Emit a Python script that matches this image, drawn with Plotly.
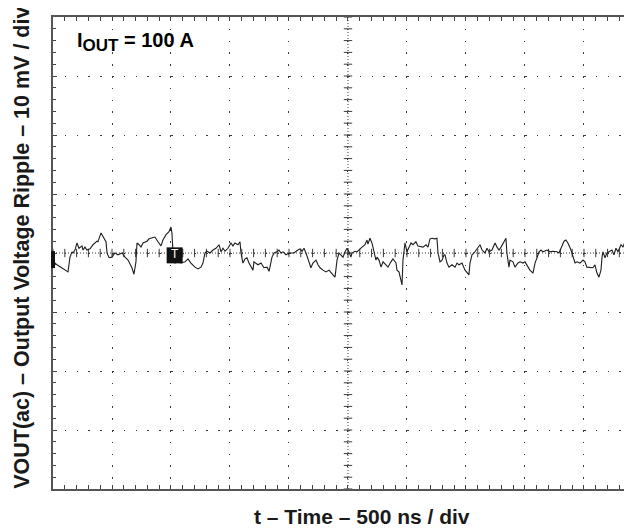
import plotly.graph_objects as go

# ---- data ----
t_ns = [0, 17, 34, 76, 119, 127, 144, 161, 169, 186, 203, 220, 246, 254, 271, 288, 314, 339, 373, 381,
        407, 424, 432, 449, 458, 475, 500, 525, 551, 585, 610, 636, 669, 686, 703, 712, 729, 746, 763, 797,
        814, 831, 864, 890, 915, 932, 958, 983, 1000, 1008, 1017, 1034, 1059, 1085, 1119, 1144, 1169, 1203,
        1229, 1254, 1271, 1288, 1305, 1331, 1356, 1381, 1407, 1424, 1441, 1458, 1483, 1508, 1525, 1542, 1568,
        1585, 1593, 1610, 1627, 1644, 1661, 1695, 1703, 1737, 1763, 1788, 1814, 1831, 1839, 1856, 1873, 1898,
        1915, 1932, 1949, 1975, 2000, 2017, 2042, 2076, 2093, 2110, 2127, 2144, 2169, 2186, 2203, 2229, 2246,
        2263, 2288, 2314, 2339, 2356, 2373, 2390, 2407, 2424, 2441, 2458, 2475, 2492, 2508, 2525, 2534, 2559,
        2576, 2602, 2619, 2644, 2661, 2669, 2686, 2703, 2720, 2737, 2746, 2763, 2780, 2797, 2822, 2839, 2864,
        2881, 2907, 2915, 2932, 2949, 2958, 2966, 2983, 3000, 3017, 3034, 3051, 3076, 3093, 3119, 3136, 3161,
        3178, 3195, 3212, 3237, 3254, 3263, 3280, 3297, 3314, 3322, 3339, 3356, 3381, 3407, 3424, 3441, 3466,
        3492, 3508, 3525, 3534, 3551, 3568, 3576, 3602, 3619, 3636, 3661, 3678, 3695, 3720, 3746, 3763, 3780,
        3797, 3822, 3839, 3847, 3864, 3873, 3898, 3915, 3941, 3958, 3983, 4000, 4025, 4042, 4068, 4085, 4102,
        4119, 4136, 4153, 4186, 4212, 4237, 4271, 4288, 4314, 4331, 4347, 4364, 4390, 4407, 4424, 4441, 4466,
        4492, 4508, 4525, 4551, 4576, 4593, 4610, 4627, 4644, 4653, 4661, 4678, 4695, 4712, 4737, 4754, 4771,
        4788, 4814, 4831, 4847, 4864, 4890, 4907]
v_mv = [-1.7, -1.7, -2.0, -2.5, -3.1, -3.2, -0.7, 0.2, 0.0, 0.5, 1.7, 0.8, 1.2, 0.5, 1.0, 0.5, 0.7, 1.4, 2.0, 1.9,
        3.4, 2.7, 2.5, 1.9, 0.0, -0.8, -0.7, 0.0, -0.3, 0.0, -0.7, -1.2, -2.5, -3.6, -1.5, 1.7, 1.4, 1.0, 1.7, 2.0,
        2.4, 2.5, 2.7, 1.9, 1.2, 2.2, 3.1, 3.6, 4.4, 3.4, 0.2, -1.7, -1.5, -1.7, -1.5, -1.0, -1.7, -2.4,
        -2.7, -2.4, -1.7, 0.0, 0.3, 0.0, 0.5, 0.8, 1.4, 0.2, 0.8, 0.3, 0.8, 1.7, 1.2, 1.7, 1.4,
        1.9, 0.0, -1.7, -1.0, -0.8, -1.7, -2.9, -1.5, -2.0, -1.7, -2.5, -2.4, -3.1, -2.4, -0.7, 0.0, 0.2,
        0.5, 0.0, 0.2, -0.3, 0.0, 0.0, 0.0, 0.5, 0.7, 0.3, 0.8, 0.0, -1.5, -2.5, -1.7, -1.2, -2.0,
        -2.5, -2.9, -3.2, -2.9, -3.4, -3.7, -4.1, -1.2, 0.0, -0.3, -0.7, 0.2, 0.8, 0.2, -0.7, 0.0, 0.3,
        0.2, 0.8, 1.0, 1.4, 2.2, 1.5, 2.5, 1.7, 0.0, -1.2, -0.7, -1.2, -2.4, -1.5, -2.0, -2.4, -1.5,
        -1.0, -1.7, -2.9, -3.2, -4.6, -5.4, -1.2, 1.7, 0.2, 1.0, 1.7, 1.4, 1.9, 1.2, 1.0, 1.0, 1.4,
        1.0, 2.4, 2.5, 2.4, 2.5, 0.0, -1.5, -1.2, -0.3, -0.3, -1.7, -2.4, -2.0, -2.4, -1.7, -2.0, -1.7,
        -2.9, -3.4, -3.7, -1.7, -0.3, 0.0, 0.2, 0.8, 1.4, 0.5, 0.0, 0.8, 0.2, 0.5, 1.7, 1.0, 0.5,
        1.0, 1.9, 2.5, 0.0, -2.4, -1.2, -1.5, -2.4, -1.7, -1.5, -1.7, -1.5, -2.4, -2.9, -3.4, -1.7, -0.8,
        0.2, 0.5, 0.2, 0.5, 0.2, 0.3, 0.2, 0.0, 1.4, 2.0, 2.2, 1.7, 0.5, -0.7, -1.7, -1.5, -1.7,
        -1.2, -1.5, -2.4, -2.4, -2.5, -2.0, -3.4, -4.1, -2.9, -0.7, 0.2, -0.8, 0.0, 0.2, 0.5, -0.3, 0.8,
        0.2, 1.4, 1.0, 1.9, 1.7, 2.2, 2.5]

t_range = [0, 4907]          # visible part of the 10-division screen (500 ns/div)
v_range = [-40, 40]          # 8 divisions, 10 mV/div
t_div = 500
v_div = 10
t_center = 2500
v_center = 0
trigger_t = 1031
trigger_v = -0.4

annotation_text = "I<sub><span style='font-size:17px'>OUT</span></sub> = 100 A"
x_title = "t – Time – 500 ns / div"
y_title = "VOUT(ac) – Output Voltage Ripple – 10 mV / div"

FONT = "Liberation Sans, Arial, sans-serif"
GRID = "#3a3a3a"

fig = go.Figure()

# crosshair tick marks (graticule centre lines)
minor_t = [k * t_div / 5 for k in range(0, int(t_range[1] // (t_div / 5)) + 1)]
minor_v = [v_range[0] + k * v_div / 5 for k in range(0, int((v_range[1] - v_range[0]) // (v_div / 5)) + 1)]
fig.add_trace(go.Scatter(x=minor_t, y=[v_center] * len(minor_t), mode="markers",
                         marker=dict(symbol="line-ns", size=6, line=dict(width=1, color=GRID)),
                         hoverinfo="skip", showlegend=False))
fig.add_trace(go.Scatter(x=[t_center] * len(minor_v), y=minor_v, mode="markers",
                         marker=dict(symbol="line-ew", size=6, line=dict(width=1, color=GRID)),
                         hoverinfo="skip", showlegend=False))

# waveform
fig.add_trace(go.Scatter(x=t_ns, y=v_mv, mode="lines",
                         line=dict(color="#1e1e1e", width=1.1),
                         hoverinfo="skip", showlegend=False))

# trigger marker
fig.add_trace(go.Scatter(x=[trigger_t], y=[trigger_v], mode="markers+text",
                         marker=dict(symbol="square", size=16, color="#111111"),
                         text=["T"], textposition="middle center",
                         textfont=dict(family=FONT, size=12, color="white"),
                         hoverinfo="skip", showlegend=False))

shapes = [
    dict(type="line", xref="x", yref="y", x0=t_center, x1=t_center, y0=v_range[0], y1=v_range[1],
         line=dict(color=GRID, width=1, dash="1px,2px"), layer="below"),
    dict(type="line", xref="x", yref="y", x0=t_range[0], x1=t_range[1], y0=v_center, y1=v_center,
         line=dict(color=GRID, width=1, dash="1px,2px"), layer="below"),
    # channel ground marker at the left edge
    dict(type="rect", xref="paper", yref="paper", x0=-0.0035, x1=0.0035, y0=0.468, y1=0.504,
         fillcolor="#111111", line=dict(width=0)),
]

axis_common = dict(showgrid=True, gridcolor=GRID, gridwidth=1, griddash="1.5px,10.3px",
                   zeroline=False, showline=True, linecolor="#555555", linewidth=1.5,
                   ticks="inside", ticklen=4, tickcolor="#444444", showticklabels=False)

# the page body has an 8 px margin, so the figure is sized to end at the window edges
fig.update_layout(
    width=624, height=521,
    margin=dict(l=45, r=0, t=9, b=40),
    paper_bgcolor="white", plot_bgcolor="white",
    xaxis=dict(range=t_range, dtick=t_div, tick0=0, mirror="ticks",
               minor=dict(dtick=t_div / 5, ticks="inside", ticklen=4, tickcolor="#444444", showgrid=False),
               **axis_common),
    yaxis=dict(range=v_range, dtick=v_div, tick0=0, mirror=False,
               minor=dict(dtick=v_div / 5, ticks="inside", ticklen=3, tickcolor="#444444", showgrid=False),
               **axis_common),
    shapes=shapes,
    annotations=[
        dict(text=annotation_text, xref="paper", yref="paper", x=0.038, y=0.978,
             xanchor="left", yanchor="top", showarrow=False,
             font=dict(family=FONT, size=20, color="black", weight="bold")),
        dict(text=x_title, xref="paper", yref="paper", x=0.534, y=-0.059,
             xanchor="center", yanchor="middle", showarrow=False,
             font=dict(family=FONT, size=21, color="#1a1a1a", weight="bold")),
        dict(text=y_title, xref="paper", yref="paper", x=-0.0535, y=0.511, textangle=-90,
             xanchor="center", yanchor="middle", showarrow=False,
             font=dict(family=FONT, size=21.5, color="#1a1a1a", weight="bold")),
    ],
)

fig.write_html("out.html")
